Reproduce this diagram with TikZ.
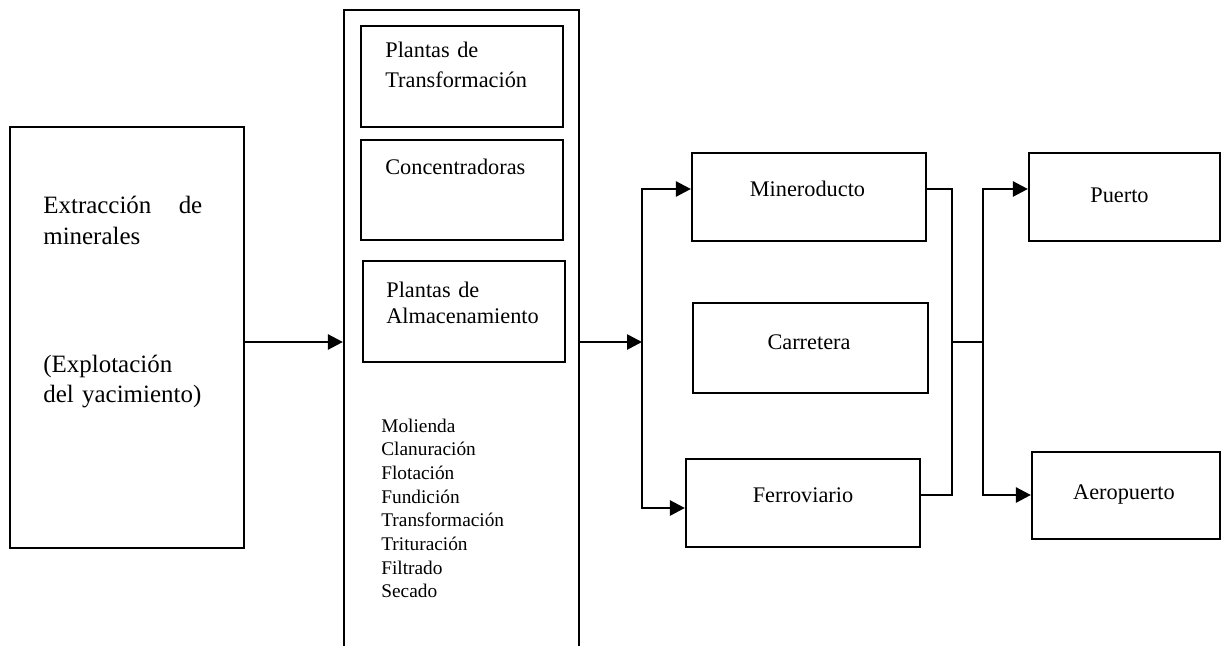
\documentclass[tikz,border=0pt]{standalone}
\usepackage{fontspec}
\setmainfont{Liberation Serif}
\usetikzlibrary{arrows.meta}

\tikzset{
  caja/.style={draw, line width=1.3pt, inner sep=0pt},
  linea/.style={line width=1.3pt},
  flecha/.style={line width=1.5pt, >={Triangle[length=0.3cm,width=0.3cm]}, ->},
  txtgr/.style={font=\fontsize{14.2}{17.6}\selectfont, inner sep=0pt, anchor=base west, align=left, text width=3.5cm},
  txt/.style={font=\fontsize{12.7}{17}\selectfont, inner sep=0pt, anchor=base},
  txtin/.style={txt, anchor=base west, align=left, text width=3.6cm},
  txtch/.style={font=\fontsize{11}{13.4}\selectfont, inner sep=0pt, anchor=base west},
}

\begin{document}
\begin{tikzpicture}[x=0.02cm, y=-0.02cm]
\clip (0,0) rectangle (1222,645);

% Extraccion
\node[caja, minimum width=4.68cm, minimum height=8.42cm] (extr) at (127,337.5) {};
\node[txtgr, text width=3.18cm] (extrt) at (43,214) {Extracción\hfill de\\minerales};
\node[txtgr] (explo) at (43,372) {(Explotación\\del yacimiento)};

% Plantas
\node[caja, minimum width=4.7cm, minimum height=13.8cm] (plant) at (461.5,355) {};
\node[caja, minimum width=4.04cm, minimum height=2.02cm] (trans) at (462,76.5) {};
\node[txtin] (transt) at (385,58) {Plantas de\\Transformación};
\node[caja, minimum width=4.04cm, minimum height=2cm] (conc) at (462,190) {};
\node[txtin] (conct) at (385,174) {Concentradoras};
\node[caja, minimum width=4.04cm, minimum height=2.02cm] (alma) at (464,311.5) {};
\node[txtin, font=\fontsize{12.7}{15.3}\selectfont] (almat) at (386,297) {Plantas de\\Almacenamiento};

% Procesos
\foreach \t [count=\i from 0] in {Molienda, Clanuración, Flotación, Fundición,
    Transformación, Trituración, Filtrado, Secado} {
    \node[txtch] (proc\i) at (381,{432+23.7*\i}) {\t};
}

% Transporte
\node[caja, minimum width=4.68cm, minimum height=1.76cm] (mine) at (809,197) {};
\node[txt] (minet) at (807.5,196) {Mineroducto};
\node[caja, minimum width=4.7cm, minimum height=1.8cm] (carr) at (810.5,348) {};
\node[txt] (carrt) at (809,349) {Carretera};
\node[caja, minimum width=4.68cm, minimum height=1.76cm] (ferro) at (803,503) {};
\node[txt] (ferrot) at (803,502) {Ferroviario};

% Destino
\node[caja, minimum width=3.82cm, minimum height=1.76cm] (puerto) at (1124.5,197) {};
\node[txt] (puertot) at (1119.5,202) {Puerto};
\node[caja, minimum width=3.76cm, minimum height=1.74cm] (aero) at (1126,495.5) {};
\node[txt] (aerot) at (1124,499) {Aeropuerto};

% Conexiones
\coordinate (ja) at (642,189);
\coordinate (jm) at (642,342);
\coordinate (jb) at (642,508);
\coordinate (ra) at (952,189);
\coordinate (rm) at (952,342);
\coordinate (rb) at (952,495);
\coordinate (sa) at (983,189);
\coordinate (sm) at (983,342);
\coordinate (sb) at (983,495);

\draw[flecha] (extr.east |- jm) -- (plant.west |- jm);
\draw[flecha] (plant.east |- jm) -- (jm);
\draw[flecha, <->] (mine.west |- ja) -- (ja) -- (jb) -- (ferro.west |- jb);
\draw[linea] (mine.east |- ra) -- (ra) -- (rb) -- (ferro.east |- rb);
\draw[linea] (rm) -- (sm);
\draw[flecha, <->] (puerto.west |- sa) -- (sa) -- (sb) -- (aero.west |- sb);
\end{tikzpicture}
\end{document}
